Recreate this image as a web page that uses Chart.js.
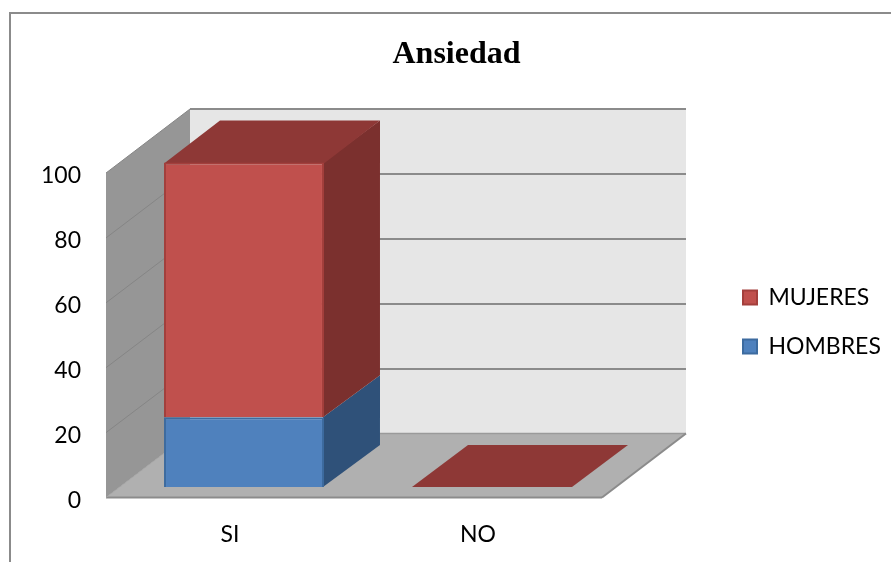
<!DOCTYPE html>
<html lang="es">
<head>
  <meta charset="UTF-8">
  <title>Ansiedad</title>
  <script src="https://cdn.jsdelivr.net/npm/chart.js"></script>
  <style>
    body { margin: 0; background: #fff; }
    canvas { display: block; }
  </style>
</head>
<body>
  <canvas id="barChart" width="891" height="562"></canvas>

  <script>
    const categories = ['SI', 'NO'];
    const hombres = [21.5, 0];
    const mujeres = [78.5, 0];

    // offsets of the fake 3D box, in pixels
    const wallDepth = { x: 84, y: 64 };
    const barDepth = { x: 56, y: 42 };
    const barShift = { x: 14, y: -10.5 };

    const gridColor = '#8b8b8b';
    const sideColors = ['#2f5179', '#7b302e'];
    const topColors = ['#3a6291', '#8e3836'];

    const polygon = (ctx, points, fill, stroke, width) => {
      ctx.beginPath();
      points.forEach(([x, y], i) => i ? ctx.lineTo(x, y) : ctx.moveTo(x, y));
      ctx.closePath();
      ctx.fillStyle = fill;
      ctx.fill();
      if (stroke) {
        ctx.strokeStyle = stroke;
        ctx.lineWidth = width;
        ctx.stroke();
      }
    };

    const line = (ctx, x1, y1, x2, y2, color, width) => {
      ctx.beginPath();
      ctx.moveTo(x1, y1);
      ctx.lineTo(x2, y2);
      ctx.strokeStyle = color;
      ctx.lineWidth = width;
      ctx.stroke();
    };

    // outer frame, only the left and top sides show
    const framePlugin = {
      id: 'frame',
      beforeDraw(chart) {
        const ctx = chart.ctx;
        line(ctx, 10, 13, 10, 562, gridColor, 2);
        line(ctx, 9, 13, 891, 13, gridColor, 2);
      }
    };

    // walls, floor and gridlines, then the bar sides, then the bars themselves
    const boxPlugin = {
      id: 'box3d',
      beforeDatasetsDraw(chart) {
        const ctx = chart.ctx;
        const xs = chart.scales.x;
        const ys = chart.scales.y;
        const left = xs.left;
        const right = xs.right;
        const bottom = ys.getPixelForValue(0);
        const top = ys.getPixelForValue(100);
        const dx = wallDepth.x;
        const dy = wallDepth.y;

        ctx.save();
        polygon(ctx, [[left + dx, top - dy], [right + dx, top - dy], [right + dx, bottom - dy], [left + dx, bottom - dy]], '#e6e6e6');
        polygon(ctx, [[left, bottom], [left, top], [left + dx, top - dy], [left + dx, bottom - dy]], '#969696');
        polygon(ctx, [[left, bottom], [right, bottom], [right + dx, bottom - dy], [left + dx, bottom - dy]], '#b0b0b0');

        ys.ticks.forEach(tick => {
          const y = ys.getPixelForValue(tick.value);
          if (tick.value > 0) {
            // whole pixels keep the 2px back-wall lines crisp
            const backY = Math.round(y - dy);
            line(ctx, left, y, left + dx, backY, '#858585', 1);
            line(ctx, left + dx, backY, right + dx, backY, gridColor, 2);
          }
        });
        line(ctx, left + dx, bottom - dy, right + dx, bottom - dy, '#9a9a9a', 1.5);
        line(ctx, left, bottom, right, bottom, gridColor, 2);
        line(ctx, right, bottom, right + dx, bottom - dy, gridColor, 2);
        line(ctx, left, bottom, left + dx, bottom - dy, '#a4a4a4', 1);
        ctx.restore();

        // stays translated until afterDatasetsDraw so the library's bars land on the floor
        ctx.save();
        ctx.translate(barShift.x, barShift.y);
        chart.data.datasets.forEach((dataset, d) => {
          chart.getDatasetMeta(d).data.forEach(bar => {
            const x2 = bar.x + bar.width / 2;
            if (bar.base - bar.y > 0) {
              // starts 1px under the front face so no seam shows
              polygon(ctx, [[x2 - 1, bar.y], [x2 + barDepth.x, bar.y - barDepth.y], [x2 + barDepth.x, bar.base - barDepth.y], [x2 - 1, bar.base]], sideColors[d]);
            }
          });
        });
        const last = chart.data.datasets.length - 1;
        chart.getDatasetMeta(last).data.forEach(bar => {
          const x1 = bar.x - bar.width / 2;
          const x2 = bar.x + bar.width / 2;
          const overlap = bar.base - bar.y > 0 ? 1 : 0;
          polygon(ctx, [[x1, bar.y + overlap], [x2, bar.y + overlap], [x2 + barDepth.x, bar.y - barDepth.y], [x1 + barDepth.x, bar.y - barDepth.y]], topColors[last]);
        });
      },
      afterDatasetsDraw(chart) {
        chart.ctx.restore();
      },
      afterLayout(chart) {
        // legend and title sit outside the plot box, so place them by hand
        const legend = chart.legend;
        const w = legend.width;
        const h = legend.height;
        legend.left = 717;
        legend.right = 717 + w;
        legend.top = 260;
        legend.bottom = 260 + h;
        chart.titleBlock.left = 0;
        chart.titleBlock.right = 913;
      }
    };

    new Chart(document.getElementById('barChart'), {
      type: 'bar',
      data: {
        labels: categories,
        datasets: [
          { label: 'HOMBRES', data: hombres, backgroundColor: '#4f81bd', borderColor: '#3d6b9f', borderWidth: 2, clip: false },
          { label: 'MUJERES', data: mujeres, backgroundColor: '#c0504d', borderColor: '#a33f3c', borderWidth: 2, clip: false }
        ]
      },
      options: {
        responsive: false,
        animation: false,
        layout: { padding: { top: 0, left: 0, right: 289, bottom: 0 } },
        datasets: { bar: { barPercentage: 0.645, categoryPercentage: 1 } },
        scales: {
          x: {
            stacked: true,
            grid: { display: false },
            border: { display: false },
            ticks: { color: '#000', font: { family: 'Lato', size: 23 }, padding: 15 },
            afterFit(scale) { scale.height = 64.5; }
          },
          y: {
            stacked: true,
            min: 0,
            max: 100,
            grid: { display: false, drawTicks: false },
            border: { display: false },
            ticks: { stepSize: 20, color: '#000', font: { family: 'Lato', size: 23 }, padding: 25, labelOffset: 3 },
            afterFit(scale) { scale.width = 106; }
          }
        },
        plugins: {
          title: {
            display: true,
            text: 'Ansiedad',
            color: '#000',
            font: { family: 'Liberation Serif', size: 32, weight: 'bold', lineHeight: 1.2 },
            padding: { top: 36, bottom: 98.6 }
          },
          legend: {
            position: 'chartArea',
            align: 'start',
            reverse: true,
            labels: {
              color: '#000',
              font: { family: 'Lato', size: 23 },
              boxWidth: 14,
              boxHeight: 14,
              padding: 26,
              generateLabels: chart => Chart.defaults.plugins.legend.labels.generateLabels(chart)
                .map(item => ({ ...item, lineWidth: 2 }))
            }
          },
          tooltip: { enabled: false }
        }
      },
      plugins: [framePlugin, boxPlugin]
    });
  </script>
</body>
</html>
